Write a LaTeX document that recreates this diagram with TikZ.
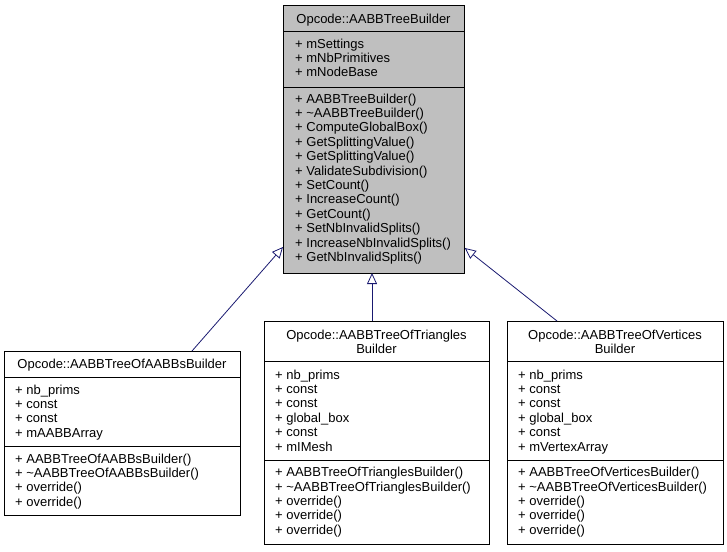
\documentclass[tikz,border=0pt]{standalone}
\usepackage{fontspec}
\setmainfont{Liberation Sans}
\usetikzlibrary{arrows.meta,calc}
\begin{document}
\begin{tikzpicture}[x=1pt,y=-1pt,
  classbox/.style={draw=black,line width=0.8pt,minimum width=#1,anchor=north west,inner sep=0pt},
  members/.style={anchor=north west,align=left,inner sep=0pt,font=\fontsize{13}{14.4}\selectfont},
  title/.style={anchor=north,align=center,inner sep=0pt,font=\fontsize{13}{14.2}\selectfont},
  inherit/.style={draw={rgb,255:red,25;green,25;blue,112},line width=0.8pt,
    -{Triangle[open,length=11pt,width=10pt]}}]
\useasboundingbox (0,0) rectangle (727,551);

% base class
\node[classbox=181pt,minimum height=268pt,fill={rgb,255:red,191;green,191;blue,191}] (base) at (283,5) {};
\draw (283,31) -- (464,31);
\draw (283,87) -- (464,87);
\node[title] (basetitle) at (373.5,13.5) {Opcode::AABBTreeBuilder};
\node[members] (baseattr) at (295,38.5) {+ mSettings\\+ mNbPrimitives\\+ mNodeBase};
\node[members] (baseops) at (295,93.5) {+ AABBTreeBuilder()\\+ \textasciitilde AABBTreeBuilder()\\+ ComputeGlobalBox()\\+ GetSplittingValue()\\+ GetSplittingValue()\\+ ValidateSubdivision()\\+ SetCount()\\+ IncreaseCount()\\+ GetCount()\\+ SetNbInvalidSplits()\\+ IncreaseNbInvalidSplits()\\+ GetNbInvalidSplits()};

% AABBs builder
\node[classbox=236pt,minimum height=164pt] (aabbs) at (4,351) {};
\draw (4,377) -- (240,377);
\draw (4,446) -- (240,446);
\node[title] (aabbstitle) at (122,358.5) {Opcode::AABBTreeOfAABBsBuilder};
\node[members] (aabbsattr) at (15,384.5) {+ nb\_prims\\+ const\\+ const\\+ mAABBArray};
\node[members] (aabbsops) at (15,453.5) {+ AABBTreeOfAABBsBuilder()\\+ \textasciitilde AABBTreeOfAABBsBuilder()\\+ override()\\+ override()};

% triangles builder
\node[classbox=225pt,minimum height=223pt] (tris) at (264,321) {};
\draw (264,361) -- (489,361);
\draw (264,460) -- (489,460);
\node[title] (tristitle) at (376.5,329.5) {Opcode::AABBTreeOfTriangles\\Builder};
\node[members] (trisattr) at (275,369.5) {+ nb\_prims\\+ const\\+ const\\+ global\_box\\+ const\\+ mIMesh};
\node[members] (trisops) at (275,467) {+ AABBTreeOfTrianglesBuilder()\\+ \textasciitilde AABBTreeOfTrianglesBuilder()\\+ override()\\+ override()\\+ override()};

% vertices builder
\node[classbox=216pt,minimum height=223pt] (verts) at (507,321) {};
\draw (507,361) -- (723,361);
\draw (507,460) -- (723,460);
\node[title] (vertstitle) at (615,329.5) {Opcode::AABBTreeOfVertices\\Builder};
\node[members] (vertsattr) at (518,369.5) {+ nb\_prims\\+ const\\+ const\\+ global\_box\\+ const\\+ mVertexArray};
\node[members] (vertsops) at (518,467) {+ AABBTreeOfVerticesBuilder()\\+ \textasciitilde AABBTreeOfVerticesBuilder()\\+ override()\\+ override()\\+ override()};

% inheritance
\draw[inherit] ($(aabbs.north west)+(188,0)$) -- ($(base.north west)+(0,242)$);
\draw[inherit] ($(tris.north west)+(108,0)$) -- ($(base.north west)+(89,268)$);
\draw[inherit] ($(verts.north west)+(50,0)$) -- ($(base.north east)+(0,243)$);
\end{tikzpicture}
\end{document}
